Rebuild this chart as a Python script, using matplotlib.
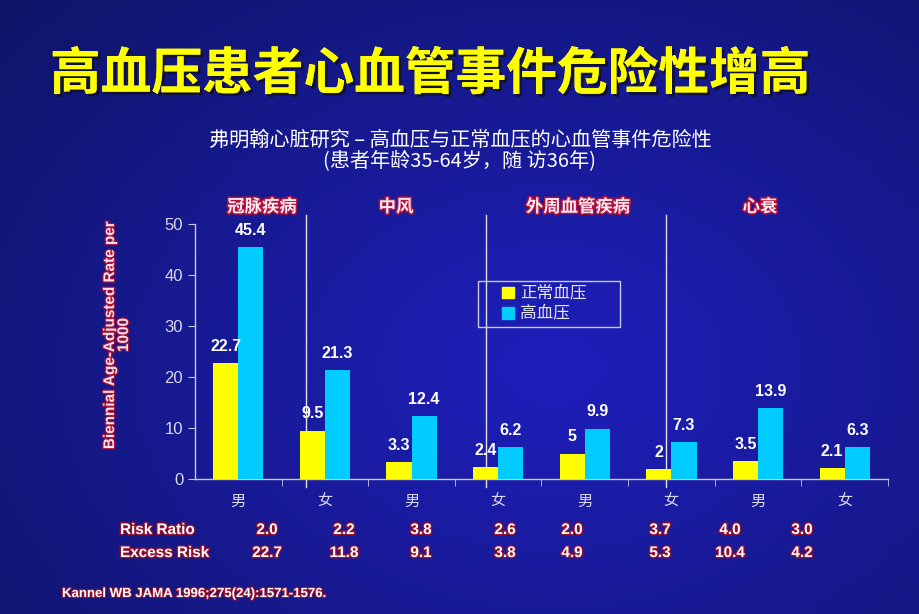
import matplotlib.pyplot as plt
import matplotlib.patheffects as pe
from matplotlib.patches import Patch, Rectangle
import numpy as np

plt.rcParams['font.family'] = ['Noto Sans CJK SC', 'DejaVu Sans']

# data
groups = ['冠脉疾病', '中风', '外周血管疾病', '心衰']
sex_labels = ['男', '女', '男', '女', '男', '女', '男', '女']
normal_bp = [22.7, 9.5, 3.3, 2.4, 5, 2, 3.5, 2.1]
high_bp = [45.4, 21.3, 12.4, 6.2, 9.9, 7.3, 13.9, 6.3]
normal_lbl = ['22.7', '9.5', '3.3', '2.4', '5', '2', '3.5', '2.1']
high_lbl = ['45.4', '21.3', '12.4', '6.2', '9.9', '7.3', '13.9', '6.3']
risk_ratio = ['2.0', '2.2', '3.8', '2.6', '2.0', '3.7', '4.0', '3.0']
excess_risk = ['22.7', '11.8', '9.1', '3.8', '4.9', '5.3', '10.4', '4.2']

W, H = 920, 614
fig = plt.figure(figsize=(W / 100, H / 100), dpi=100)

# background gradient
bg = fig.add_axes([0, 0, 1, 1], zorder=-10)
yy, xx = np.mgrid[0:1:200j, 0:1:300j]
r = np.sqrt(((xx - 0.6) * 1.1) ** 2 + ((yy - 0.6) * 1.0) ** 2)
t = np.clip(r / 0.9, 0, 1)
c_in = np.array([0.12, 0.12, 0.74])
c_out = np.array([0.06, 0.08, 0.40])
img = c_in[None, None, :] * (1 - t[..., None]) + c_out[None, None, :] * t[..., None]
bg.imshow(img, aspect='auto', extent=[0, 1, 0, 1], origin='upper')
bg.axis('off')

def fx(px):
    return px / W

def fy(py):
    return 1 - py / H

shadow_dark = [pe.withSimplePatchShadow(offset=(2, -2), shadow_rgbFace='#101030', alpha=0.9), pe.Normal()]
red_edge = [pe.withStroke(linewidth=2.2, foreground='#b0103a')]

fig.text(fx(50), fy(75), '高血压患者心血管事件危险性增高', color='#ffff00', fontsize=36.5,
         fontweight='bold', va='center', ha='left', path_effects=shadow_dark)
fig.text(fx(460), fy(140), '弗明翰心脏研究 – 高血压与正常血压的心血管事件危险性',
         color='white', fontsize=14.5, ha='center', va='center')
fig.text(fx(460), fy(162), '(患者年龄35-64岁，随 访36年)',
         color='white', fontsize=14.5, ha='center', va='center')

ax = fig.add_axes([fx(195), fy(479), fx(888) - fx(195), fy(224) - fy(479)])
ax.set_facecolor('none')
x = np.arange(len(normal_bp))
w = 0.29
ax.bar(x - w / 2, normal_bp, w, color='#ffff00', zorder=3)
ax.bar(x + w / 2, high_bp, w, color='#00ccff', zorder=3)
for i in range(len(x)):
    ax.text(x[i] - w / 2, normal_bp[i] + 1.8, normal_lbl[i], color='white', fontsize=11.5,
            fontweight='bold', family='Liberation Sans', ha='center', va='bottom', zorder=4)
    ax.text(x[i] + w / 2, high_bp[i] + 1.8, high_lbl[i], color='white', fontsize=11.5,
            fontweight='bold', family='Liberation Sans', ha='center', va='bottom', zorder=4)

ax.set_xlim(-0.5, 7.5)
ax.set_ylim(0, 50)
ax.set_yticks(range(0, 51, 10))
ax.set_xticks(x)
ax.set_xticklabels(sex_labels, color='#d8d8e8', fontsize=11)
ax.set_xticks(np.arange(0.5, 7.6, 1), minor=True)
ax.tick_params(axis='x', which='major', length=0, pad=10)
ax.tick_params(axis='x', which='minor', length=5, direction='out', color='#c8c8e0')
ax.tick_params(axis='y', length=5, color='#c8c8e0', labelcolor='#d8d8e8', labelsize=12)
for lab in ax.get_yticklabels():
    lab.set_family('Liberation Sans')
for s in ['top', 'right']:
    ax.spines[s].set_visible(False)
for s in ['left', 'bottom']:
    ax.spines[s].set_color('#c8c8e0')
    ax.spines[s].set_linewidth(1)

# separators between groups
for sx in [0.785, 2.86, 4.94]:
    ax.plot([sx, sx], [-1.6, 51.8], color='#e0e0f0', lw=1, clip_on=False, zorder=2)

# group headers
for gx, g in zip([262, 396, 578, 760], groups):
    fig.text(fx(gx), fy(207), g, color='#ffe8f0', fontsize=12.5, fontweight='bold',
             ha='center', va='center', path_effects=red_edge)

fig.text(fx(117), fy(335), 'Biennial Age-Adjusted Rate per\n1000', color='#ffe0ea',
         fontsize=11, fontweight='bold', family='Liberation Sans', linespacing=1.0,
         rotation=90, ha='center', va='center', multialignment='center',
         path_effects=[pe.withStroke(linewidth=1.8, foreground='#a0103a')])

# legend
fig.patches.append(Rectangle((fx(478), fy(327)), fx(620) - fx(478), fy(281) - fy(327),
                             transform=fig.transFigure, fill=False, edgecolor='#c8c8e8', lw=1))
leg = fig.legend(handles=[Patch(color='#ffff00', label='正常血压'),
                          Patch(color='#00ccff', label='高血压')],
                 loc='center left', bbox_to_anchor=(fx(502), fy(304)), frameon=False,
                 fontsize=12, handlelength=0.7, handleheight=0.7, handletextpad=0.4,
                 borderpad=0, labelspacing=0.2, borderaxespad=0)
for t_ in leg.get_texts():
    t_.set_color('#e8e8f0')

# risk rows
row_fx = dict(color='white', fontsize=11, fontweight='bold', family='Liberation Sans',
              va='center', path_effects=[pe.withStroke(linewidth=2, foreground='#901030')])
fig.text(fx(120), fy(530), 'Risk Ratio', ha='left', **row_fx)
fig.text(fx(120), fy(553), 'Excess Risk', ha='left', **row_fx)
rr_x = [267, 344, 421, 505, 572, 660, 730, 802]
for px, rr, er in zip(rr_x, risk_ratio, excess_risk):
    fig.text(fx(px), fy(530), rr, ha='center', **row_fx)
    fig.text(fx(px), fy(553), er, ha='center', **row_fx)

fig.text(fx(62), fy(594), 'Kannel WB JAMA 1996;275(24):1571-1576.', ha='left', color='white',
         fontsize=9.5, fontweight='bold', family='Liberation Sans', va='center',
         path_effects=[pe.withStroke(linewidth=1.6, foreground='#901030')])

fig.savefig('out.png', dpi=100)
